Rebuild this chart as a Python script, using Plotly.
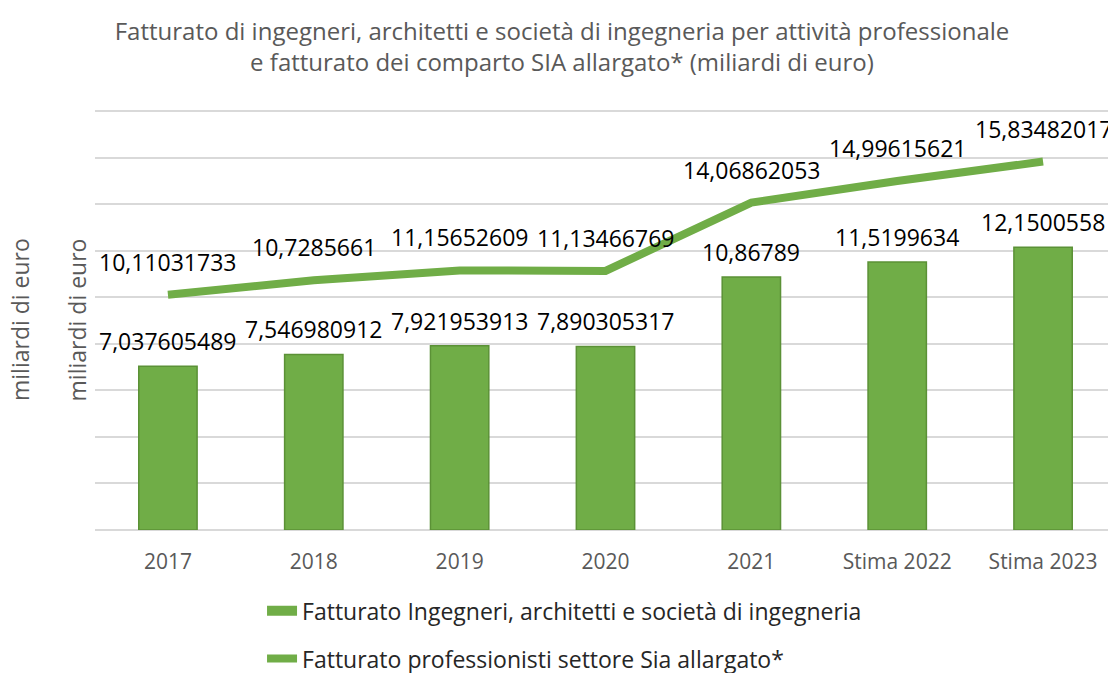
import plotly.graph_objects as go

# Dati (miliardi di euro)
anni = ["2017", "2018", "2019", "2020", "2021", "Stima 2022", "Stima 2023"]
fatturato_ingegneri = [7.037605489, 7.546980912, 7.921953913, 7.890305317, 10.86789, 11.5199634, 12.1500558]
fatturato_sia = [10.11031733, 10.7285661, 11.15652609, 11.13466769, 14.06862053, 14.99615621, 15.83482017]

label_ingegneri = ["7,037605489", "7,546980912", "7,921953913", "7,890305317", "10,86789", "11,5199634", "12,1500558"]
label_sia = ["10,11031733", "10,7285661", "11,15652609", "11,13466769", "14,06862053", "14,99615621", "15,83482017"]

nome_barre = "Fatturato Ingegneri, architetti e società di ingegneria"
nome_linea = "Fatturato professionisti settore Sia allargato*"

verde = "#70AD47"
font_family = "Open Sans"
label_font = dict(size=23, color="#000000", family=font_family)

# la pagina ha 8px di margine del body: la figura è un po' più piccola della finestra
W, H = 1108, 665
L = 87

fig = go.Figure()

fig.add_trace(go.Bar(
    x=anni, y=fatturato_ingegneri,
    name=nome_barre,
    marker=dict(color=verde, line=dict(color="#5B9136", width=1.5)),
    width=0.4,
    showlegend=False,
))

# voce di legenda per le barre (rettangolo più largo, come nell'originale)
fig.add_trace(go.Scatter(
    x=[None], y=[None], mode="lines", name=nome_barre,
    line=dict(color=verde, width=16),
    legendgroup="a",
))

fig.add_trace(go.Scatter(
    x=anni, y=fatturato_sia,
    name=nome_linea,
    mode="lines",
    line=dict(color=verde, width=8),
    cliponaxis=False,
    legendgroup="b",
))

# etichette dati come annotazioni (x = indice di categoria)
annotations = []
for i, (v, t) in enumerate(zip(fatturato_ingegneri, label_ingegneri)):
    annotations.append(dict(x=i, y=v, xref="x", yref="y", text=t, showarrow=False, yshift=25,
                            yanchor="middle", font=label_font))
for i, (v, t) in enumerate(zip(fatturato_sia, label_sia)):
    annotations.append(dict(x=i, y=v, xref="x", yref="y", text=t, showarrow=False, yshift=33,
                            yanchor="middle", font=label_font))
# titolo asse esterno
annotations.append(dict(text="miliardi di euro", textangle=-90, x=(12 - L) / (W - L), xref="paper",
                        xanchor="center", y=0.5, yref="paper", showarrow=False,
                        font=dict(size=23, color="#595959")))

fig.update_layout(
    width=W, height=H,
    margin=dict(l=L, r=0, t=102, b=143),
    paper_bgcolor="white", plot_bgcolor="white",
    font=dict(family=font_family, color="#595959"),
    title=dict(
        text="Fatturato di ingegneri, architetti e società di ingegneria per attività professionale<br>e fatturato dei comparto SIA allargato* (miliardi di euro)",
        x=0.5, xanchor="center", y=0.952, yanchor="top",
        font=dict(size=24, color="#595959", family=font_family),
    ),
    showlegend=True,
    legend=dict(
        orientation="v", x=0.1636, xanchor="left", y=0.126, yanchor="top", yref="container",
        font=dict(size=23, color="#262626", family=font_family),
        tracegroupgap=15,
    ),
    annotations=annotations,
)

fig.update_xaxes(
    type="category", range=[-0.5, 6.5],
    showgrid=False, showline=False,
    ticks="outside", ticklen=13, tickcolor="rgba(0,0,0,0)",
    tickfont=dict(size=21, color="#595959"),
)
fig.update_yaxes(
    range=[0, 18.05], dtick=2, showgrid=True, gridcolor="#D9D9D9", gridwidth=1.5,
    showticklabels=False, zeroline=True, zerolinecolor="#D9D9D9", zerolinewidth=1.5,
    title=dict(text="miliardi di euro", font=dict(size=23, color="#595959"), standoff=0),
)

fig.write_html("out.html")
